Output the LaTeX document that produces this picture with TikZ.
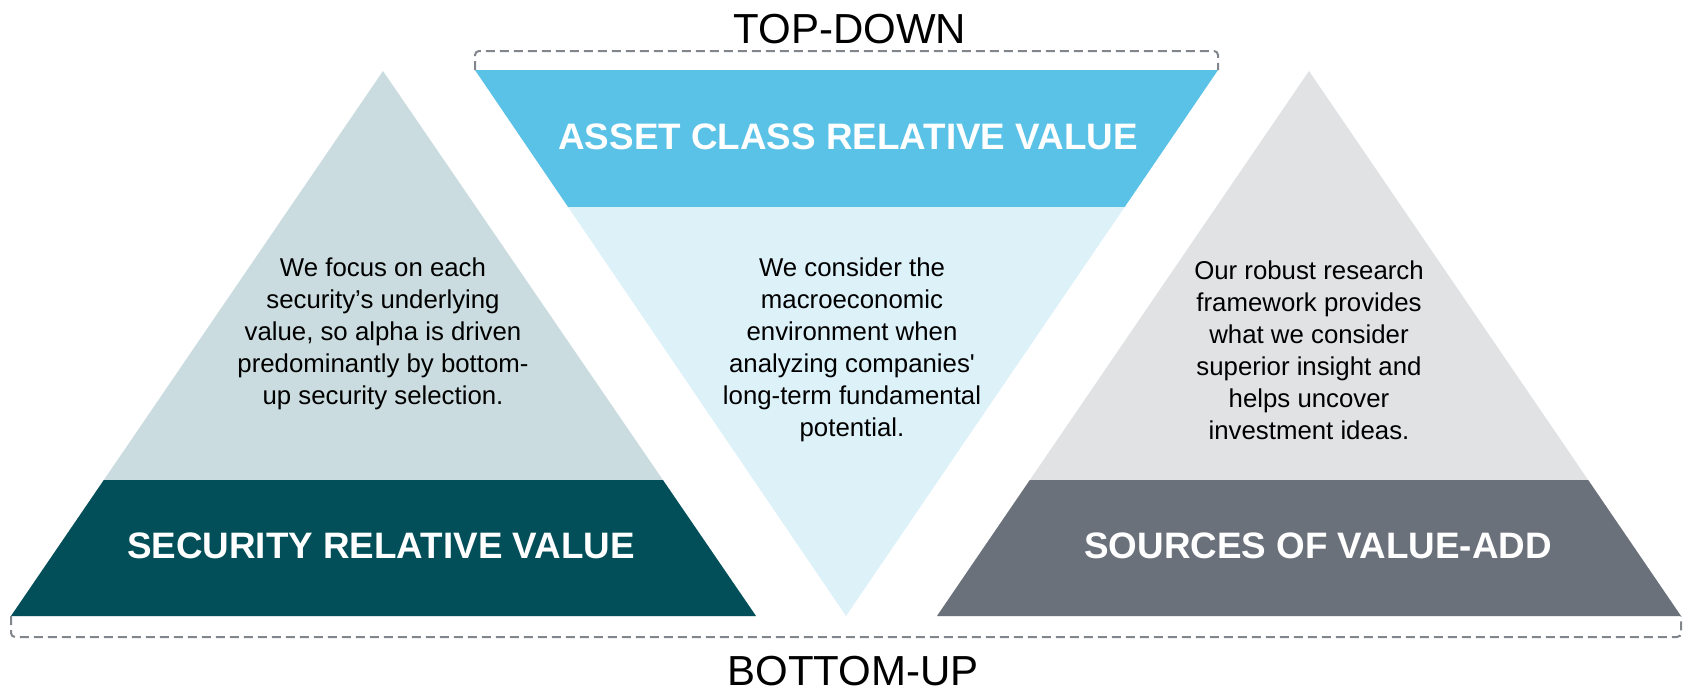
\documentclass[tikz,border=0pt]{standalone}
\usepackage{fontspec}
\setmainfont{Liberation Sans}
\usetikzlibrary{calc}
\definecolor{topband}{HTML}{5BC2E7}
\definecolor{toplight}{HTML}{DDF1F9}
\definecolor{secdark}{HTML}{034F59}
\definecolor{seclight}{HTML}{CADCDF}
\definecolor{srcdark}{HTML}{6B717B}
\definecolor{srclight}{HTML}{E1E2E4}
\definecolor{dashgray}{HTML}{80868C}

\begin{document}
\begin{tikzpicture}[x=0.5pt,y=-0.5pt,
  bandtext/.style={font=\fontsize{18.4}{22}\selectfont\bfseries,text=white,anchor=base,inner sep=0pt},
  blurb/.style={font=\fontsize{12.9}{16}\selectfont,align=center,inner sep=0pt},
  heading/.style={font=\fontsize{21}{25}\selectfont,anchor=base,inner sep=0pt},
  bracket/.style={draw=dashgray,line width=1pt,dash pattern=on 4.5pt off 2.5pt,rounded corners=2pt}]
\useasboundingbox (0,0) rectangle (1688,691);
\coordinate (sec-top) at (383,71);   \coordinate (sec-left) at (11,616);  \coordinate (sec-right) at (756,616);
\coordinate (top-left) at (475,70);  \coordinate (top-right) at (1218,70); \coordinate (top-tip) at (846,616);
\coordinate (src-top) at (1309,71);  \coordinate (src-left) at (937,616); \coordinate (src-right) at (1681,616);
\fill [seclight] (sec-top) -- (sec-left) -- (sec-right) -- cycle;
\fill [secdark] ($(sec-top)!0.7505!(sec-left)$) -- (sec-left) -- (sec-right) -- ($(sec-top)!0.7505!(sec-right)$) -- cycle;
\fill [toplight] (top-left) -- (top-right) -- (top-tip) -- cycle;
\fill [topband] (top-left) -- (top-right) -- ($(top-right)!0.2509!(top-tip)$) -- ($(top-left)!0.2509!(top-tip)$) -- cycle;
\fill [srclight] (src-top) -- (src-left) -- (src-right) -- cycle;
\fill [srcdark] ($(src-top)!0.7505!(src-left)$) -- (src-left) -- (src-right) -- ($(src-top)!0.7505!(src-right)$) -- cycle;
\draw [bracket] (top-left) -- ++(0,-19) -| (top-right);
\draw [bracket] (sec-left) -- ++(0,21) -| (src-right);
\node [heading] (topdown) at (850,43) {TOP-DOWN};
\node [heading] (bottomup) at (853,685) {BOTTOM-UP};
\node [bandtext] (top-head) at (848,149) {ASSET CLASS RELATIVE VALUE};
\node [bandtext] (sec-head) at (381,558) {SECURITY RELATIVE VALUE};
\node [bandtext] (src-head) at (1318,558) {SOURCES OF VALUE-ADD};
\node [blurb] (sec-text) at (383,334) {We focus on each\\security’s underlying\\value, so alpha is driven\\predominantly by bottom-\\up security selection.};
\node [blurb] (top-text) at (852,350) {We consider the\\macroeconomic\\environment when\\analyzing companies\textquotesingle\\long-term fundamental\\potential.};
\node [blurb] (src-text) at (1309,350) {Our robust research\\framework provides\\what we consider\\superior insight and\\helps uncover\\investment ideas.};
\end{tikzpicture}
\end{document}
